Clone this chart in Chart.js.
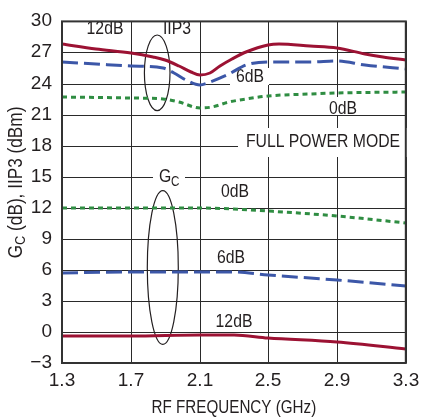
<!DOCTYPE html>
<html>
<head>
<meta charset="utf-8">
<script src="https://cdn.jsdelivr.net/npm/chart.js@4"></script>
<style>
html,body{margin:0;padding:0;background:#fff;}
#wrap{width:425px;height:419px;position:relative;}
</style>
</head>
<body>
<div id="wrap"><canvas id="c" width="425" height="419"></canvas></div>
<script>
// ---- data ----
const xTicks = [1.3, 1.7, 2.1, 2.5, 2.9, 3.3];
const yTicks = [-3, 0, 3, 6, 9, 12, 15, 18, 21, 24, 27, 30];

const iip3_12dB_x = [1.3, 1.5, 1.7, 1.83, 1.9, 1.98, 2.05, 2.1, 2.16, 2.22, 2.29, 2.37, 2.5, 2.56, 2.74, 2.9, 3.06, 3.17, 3.3];
const iip3_12dB_y = [27.8, 27.35, 26.95, 26.55, 26.3, 25.7, 25.1, 24.85, 25.05, 25.7, 26.4, 27.0, 27.7, 27.78, 27.65, 27.4, 26.85, 26.55, 26.3];

const iip3_6dB_x = [1.3, 1.5, 1.7, 1.89, 1.95, 2.02, 2.1, 2.16, 2.27, 2.37, 2.5, 2.74, 2.9, 3.06, 3.3];
const iip3_6dB_y = [26.08, 25.85, 25.68, 25.5, 25.05, 24.3, 23.9, 24.1, 24.95, 25.75, 26.08, 26.05, 26.15, 25.8, 25.36];

const iip3_0dB_x = [1.3, 1.7, 1.89, 1.98, 2.1, 2.17, 2.27, 2.37, 2.5, 2.74, 2.9, 3.3];
const iip3_0dB_y = [22.68, 22.58, 22.52, 22.2, 21.65, 21.73, 22.2, 22.52, 22.77, 22.99, 23.09, 23.2];

const gc_x = [1.3, 1.7, 2.1, 2.3, 2.5, 2.9, 3.3];
const gc_0dB_y = [11.94, 11.94, 11.94, 11.85, 11.7, 11.2, 10.57];
const gc_6dB_y = [5.67, 5.77, 5.83, 5.8, 5.52, 5.05, 4.41];
const gc_12dB_y = [-0.38, -0.4, -0.3, -0.3, -0.63, -1.0, -1.67];

const RED = '#9c1233', BLUE = '#3c57a8', GREEN = '#2f8d42';
const FONT = "'Liberation Sans', Arial, sans-serif";
const TXT = '#231f20';
const SX = 0.83; // horizontal condensing of annotation text

function pts(xs, ys){ return xs.map((x,i)=>({x:x, y:ys[i]})); }
function ds(xs, ys, color, dash){
  return {data: pts(xs, ys), borderColor: color, borderWidth: 3, borderDash: dash,
    pointRadius: 0, fill: false, cubicInterpolationMode: 'monotone', borderCapStyle: 'butt'};
}
function ctext(ctx, t, x, y, sx){
  ctx.save(); ctx.translate(x, y); ctx.scale(sx, 1); ctx.fillText(t, 0, 0); ctx.restore();
}

const annot = {
  id: 'annot',
  beforeDatasetsDraw(chart){
    const ctx = chart.ctx;
    ctx.save();
    ctx.fillStyle = '#fff';
    const boxes = [
      [230, 68, 39, 17],
      [324, 97, 38, 18],
      [238, 128, 171, 29],
      [153, 165, 32, 16]
    ];
    boxes.forEach(b=>ctx.fillRect(b[0], b[1], b[2], b[3]));
    ctx.fillStyle = TXT;
    ctx.font = '19px ' + FONT;
    ctx.textAlign = 'center';
    ctx.textBaseline = 'middle';
    const labels = [
      ['12dB', 105, 29], ['IIP3', 177, 29], ['6dB', 250, 77], ['0dB', 343, 109],
      ['FULL POWER MODE', 323, 142], ['0dB', 235, 192], ['6dB', 231, 258], ['12dB', 234, 322]
    ];
    labels.forEach(l=>ctext(ctx, l[0], l[1], l[2], SX));
    ctx.textAlign = 'left';
    ctext(ctx, 'G', 159, 177, SX);
    ctx.font = '14px ' + FONT;
    ctext(ctx, 'C', 171, 182, SX);
    ctx.strokeStyle = '#231f20';
    ctx.lineWidth = 1.2;
    ctx.beginPath(); ctx.ellipse(157.2, 72.8, 12.8, 37.8, 0, 0, Math.PI*2); ctx.stroke();
    ctx.beginPath(); ctx.ellipse(162.8, 267.5, 15.5, 76.8, 0, 0, Math.PI*2); ctx.stroke();
    ctx.restore();
  },
  afterDatasetsDraw(chart){
    const ctx = chart.ctx, a = chart.chartArea;
    ctx.save();
    ctx.strokeStyle = '#333';
    ctx.lineWidth = 2;
    ctx.strokeRect(a.left, a.top, a.right - a.left, a.bottom - a.top);
    ctx.restore();
  },
  afterDraw(chart){
    const ctx = chart.ctx, a = chart.chartArea;
    ctx.save();
    ctx.fillStyle = TXT;
    ctx.textBaseline = 'middle';
    ctx.font = '19px ' + FONT;
    ctx.textAlign = 'center';
    ctext(ctx, 'RF FREQUENCY (GHz)', (a.left + a.right)/2, 408, 0.8);
    // y title rotated with subscript C
    ctx.translate(16, 182.5);
    ctx.rotate(-Math.PI/2);
    ctx.scale(0.86, 1);
    ctx.textAlign = 'left';
    const big = '20px ' + FONT, small = '15px ' + FONT;
    ctx.font = big; const wG = ctx.measureText('G').width;
    ctx.font = small; const wC = ctx.measureText('C').width;
    ctx.font = big; const rest = ' (dB), IIP3 (dBm)'; const wR = ctx.measureText(rest).width;
    const x0 = -(wG + wC + wR)/2;
    ctx.font = big; ctx.fillText('G', x0, 0);
    ctx.font = small; ctx.fillText('C', x0 + wG, 5);
    ctx.font = big; ctx.fillText(rest, x0 + wG + wC, 0);
    ctx.restore();
  }
};

new Chart(document.getElementById('c'), {
  type: 'line',
  data: {
    datasets: [
      ds(iip3_12dB_x, iip3_12dB_y, RED, []),
      ds(iip3_6dB_x, iip3_6dB_y, BLUE, [16, 6]),
      ds(iip3_0dB_x, iip3_0dB_y, GREEN, [5, 4]),
      ds(gc_x, gc_0dB_y, GREEN, [5, 4]),
      ds(gc_x, gc_6dB_y, BLUE, [16, 6]),
      ds(gc_x, gc_12dB_y, RED, [])
    ]
  },
  options: {
    responsive: false,
    animation: false,
    events: [],
    layout: {padding: {top: 14, right: 13, left: 0, bottom: 0}},
    plugins: {legend: {display: false}, tooltip: {enabled: false}, title: {display: false}},
    scales: {
      x: {
        type: 'linear', min: 1.3, max: 3.3, alignToPixels: true,
        afterBuildTicks: s => { s.ticks = xTicks.map(v=>({value: v})); },
        afterFit: s => { s.height = 56; },
        grid: {color: '#2a2a2a', lineWidth: 1, drawTicks: false},
        border: {display: false},
        ticks: {color: TXT, font: {size: 19, family: FONT}, padding: 6, maxRotation: 0,
          callback: v => Number(v).toFixed(1)}
      },
      y: {
        type: 'linear', min: -3, max: 30, alignToPixels: true,
        afterBuildTicks: s => { s.ticks = yTicks.map(v=>({value: v})); },
        afterFit: s => { s.width = 62; },
        grid: {color: '#2a2a2a', lineWidth: 1, drawTicks: false},
        border: {display: false},
        ticks: {color: TXT, font: {size: 19, family: FONT}, padding: 10,
          callback: v => v < 0 ? '\u2212' + Math.abs(v) : String(v)}
      }
    }
  },
  plugins: [annot]
});
</script>
</body>
</html>
